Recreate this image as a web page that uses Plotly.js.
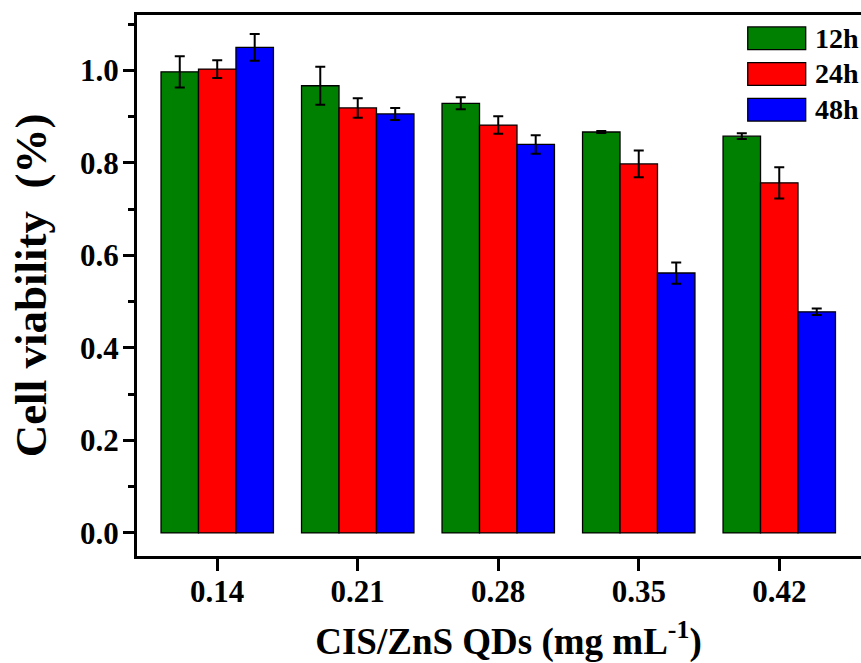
<!DOCTYPE html>
<html>
<head>
<meta charset="utf-8">
<script src="https://cdn.plot.ly/plotly-3.0.1.min.js"></script>
<style>
html, body { margin: 0; padding: 0; overflow: hidden; background: #fff; }
#chart { width: 900px; height: 663px; }
</style>
</head>
<body>
<div id="chart"></div>
<script>
const categories = ["0.14", "0.21", "0.28", "0.35", "0.42"];
const seriesNames = ["12h", "24h", "48h"];
const seriesColors = ["#008000", "#ff0000", "#0000ff"];
const values12h = [0.997, 0.967, 0.929, 0.867, 0.858];
const values24h = [1.003, 0.919, 0.882, 0.798, 0.757];
const values48h = [1.050, 0.906, 0.840, 0.562, 0.478];
const err12h = [0.034, 0.041, 0.013, 0.002, 0.006];
const err24h = [0.019, 0.021, 0.019, 0.029, 0.034];
const err48h = [0.029, 0.013, 0.020, 0.023, 0.007];

const allValues = [values12h, values24h, values48h];
const allErrors = [err12h, err24h, err48h];

const FONT = "Liberation Serif";

const traces = seriesNames.map((name, i) => ({
  type: "bar",
  name: name,
  x: categories,
  y: allValues[i],
  marker: { color: seriesColors[i], line: { color: "#000", width: 1.3 } },
  error_y: { type: "data", array: allErrors[i], visible: true, color: "#000", thickness: 2, width: 5 },
  showlegend: false
}));

const shapes = [];
const annotations = [];
seriesNames.forEach((name, i) => {
  const top = 0.978 - i * 0.066;
  shapes.push({
    type: "rect", xref: "paper", yref: "paper",
    x0: 0.822, x1: 0.900, y0: top - 0.042, y1: top,
    fillcolor: seriesColors[i], line: { color: "#000", width: 1.3 }
  });
  annotations.push({
    xref: "paper", yref: "paper", x: 0.910, y: top - 0.021,
    xanchor: "left", yanchor: "middle", showarrow: false,
    text: "<b>" + name + "</b>",
    font: { family: FONT, size: 28, color: "#000" }
  });
});

const layout = {
  width: 900, height: 663,
  margin: { l: 137, r: 20, t: 15, b: 107 },
  paper_bgcolor: "#fff", plot_bgcolor: "#fff",
  barmode: "group", bargap: 0.2, bargroupgap: 0,
  font: { family: FONT, color: "#000", size: 28 },
  xaxis: {
    type: "category",
    range: [-0.571, 4.717],
    showline: true, linecolor: "#000", linewidth: 3, mirror: true,
    ticks: "outside", ticklen: 12, tickwidth: 3, tickcolor: "#000",
    showgrid: false, zeroline: false,
    tickfont: { family: FONT, size: 31, color: "#000", weight: "bold" },
    ticklabelstandoff: -6,
    title: { text: "<b>CIS/ZnS QDs (mg mL<sup>-1</sup>)</b>", font: { family: FONT, size: 37, color: "#000" }, standoff: 20 }
  },
  yaxis: {
    range: [-0.05, 1.12],
    tick0: 0, dtick: 0.2, tickformat: ".1f",
    showline: true, linecolor: "#000", linewidth: 3, mirror: true,
    ticks: "outside", ticklen: 11, tickwidth: 3, tickcolor: "#000",
    minor: { dtick: 0.1, ticks: "outside", ticklen: 6, tickwidth: 3, tickcolor: "#000", showgrid: false },
    showgrid: false, zeroline: false,
    tickfont: { family: FONT, size: 31, color: "#000", weight: "bold" },
    ticklabelstandoff: -2,
    title: { text: "<b>Cell viability  (%)</b>", font: { family: FONT, size: 45, color: "#000" }, standoff: 20 }
  },
  shapes: shapes,
  annotations: annotations
};

Plotly.newPlot("chart", traces, layout, { displayModeBar: false, staticPlot: true });
</script>
</body>
</html>
